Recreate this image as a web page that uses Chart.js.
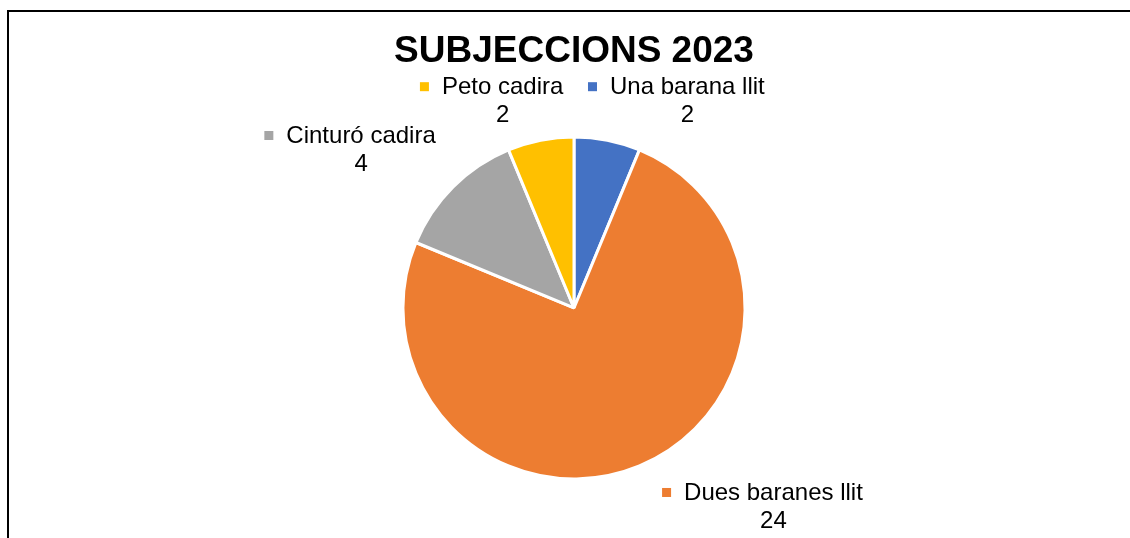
<!DOCTYPE html>
<html>
<head>
<meta charset="utf-8">
<script src="https://cdn.jsdelivr.net/npm/chart.js@4/dist/chart.umd.min.js"></script>
<style>
  html, body { margin: 0; padding: 0; background: #fff; overflow: hidden; }
  #wrap { position: relative; width: 1130px; height: 538px; }
  #frame { position: absolute; left: 7px; top: 10px; width: 1200px; height: 600px;
           border-left: 2px solid #000; border-top: 2px solid #000; box-sizing: border-box; }
  canvas { position: absolute; left: 0; top: 0; }
</style>
</head>
<body>
<div id="wrap">
  <div id="frame"></div>
  <canvas id="pieChart" width="1130" height="538"></canvas>
</div>
<script>
var categories = ['Una barana llit', 'Dues baranes llit', 'Cinturó cadira', 'Peto cadira'];
var values = [2, 24, 4, 2];
var colors = ['#4472C4', '#ED7D31', '#A5A5A5', '#FFC000'];
// where each data label sits, relative to the outer edge of its slice
var labelOffsets = [[80, -53], [134, 27], [-92, -51], [-38, -53]];

// labels drawn like Excel: colour key, category, value underneath
var outsideLabels = {
    id: 'outsideLabels',
    afterDatasetsDraw: function(chart) {
        var ctx = chart.ctx;
        var meta = chart.getDatasetMeta(0);
        ctx.save();
        ctx.font = '24px "Liberation Sans", Arial, sans-serif';
        ctx.fillStyle = '#000';
        ctx.textBaseline = 'middle';
        ctx.textAlign = 'center';
        meta.data.forEach(function(arc, i) {
            var p = arc.getProps(['x', 'y', 'startAngle', 'endAngle', 'outerRadius'], true);
            var mid = (p.startAngle + p.endAngle) / 2;
            var ax = p.x + Math.cos(mid) * p.outerRadius;
            var ay = p.y + Math.sin(mid) * p.outerRadius;
            var tx = ax + labelOffsets[i][0];
            var ty = ay + labelOffsets[i][1];
            var w = ctx.measureText(categories[i]).width;
            ctx.fillStyle = colors[i];
            ctx.fillRect(tx - w / 2 - 22, ty - 5, 9, 9);
            ctx.fillStyle = '#000';
            ctx.fillText(categories[i], tx, ty);
            ctx.fillText(String(values[i]), tx, ty + 28);
        });
        ctx.restore();
    }
};

var ctx = document.getElementById('pieChart').getContext('2d');
var myChart = new Chart(ctx, {
    type: 'pie',
    data: {
        labels: categories,
        datasets: [{
            data: values,
            backgroundColor: colors,
            borderColor: '#ffffff',
            borderWidth: 3
        }]
    },
    options: {
        responsive: false,
        animation: false,
        layout: {
            padding: { top: 10, bottom: 57.5, left: 18, right: 0 }
        },
        plugins: {
            legend: { display: false },
            title: {
                display: true,
                text: 'SUBJECCIONS 2023',
                color: '#000',
                font: { family: '"Liberation Sans", Arial, sans-serif', size: 37, weight: 'bold', lineHeight: 1.2 },
                padding: { top: 20, bottom: 61 }
            }
        }
    },
    plugins: [outsideLabels]
});
</script>
</body>
</html>
